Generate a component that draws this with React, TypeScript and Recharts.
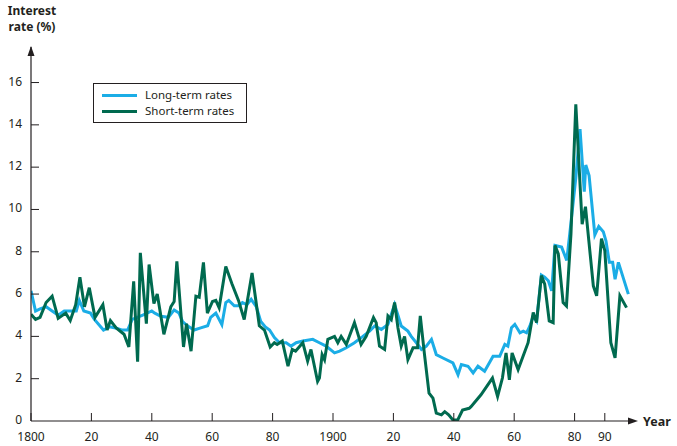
import React from 'react';
import { LineChart, Line, XAxis, YAxis, Legend, Customized } from 'recharts';

// ---- data ----
const LONG_YEARS = [1800, 1801.5, 1803, 1805, 1807, 1809, 1811, 1815, 1816, 1817.5, 1819.7, 1821, 1824, 1826, 1828, 1830, 1832, 1833.5, 1837, 1840, 1841, 1843, 1845.5, 1847.4, 1849, 1850.2, 1851.8, 1854, 1856.2, 1858.5, 1859.5, 1861.2, 1863.2, 1864.5, 1865.5, 1867.3, 1869, 1870, 1871.5, 1872.9, 1874.6, 1876.1, 1877.6, 1879, 1880.6, 1882.3, 1884.5, 1886.1, 1887.8, 1890, 1893.3, 1895.5, 1897.7, 1900.5, 1902.2, 1904.4, 1907.1, 1909.9, 1912.1, 1913.8, 1916, 1918.2, 1920.4, 1922.6, 1924.8, 1925.9, 1927.6, 1929.3, 1930.9, 1932.6, 1934.2, 1936.4, 1939.7, 1941.4, 1942.5, 1944.7, 1946.4, 1948, 1950.2, 1953, 1955.2, 1956.9, 1957.9, 1959.1, 1960.2, 1961.9, 1963, 1964.1, 1965.2, 1966.3, 1967.4, 1968.2, 1969, 1970.1, 1971.3, 1972.4, 1973.5, 1975.7, 1977.4, 1978.4, 1979.5, 1980.4, 1981.8, 1983.2, 1983.7, 1984.8, 1986.7, 1988, 1989.5, 1990.4, 1991.5, 1992.6, 1993.4, 1994.5, 1997.8];
const LONG_RATES = [6.15, 5.2, 5.3, 5.4, 5.2, 5.0, 5.2, 5.2, 5.7, 5.2, 5.1, 4.8, 4.3, 4.45, 4.4, 4.3, 4.3, 4.8, 5.0, 5.2, 5.1, 4.95, 4.9, 5.25, 5.1, 4.7, 4.5, 4.3, 4.4, 4.5, 4.9, 5.1, 4.55, 5.6, 5.7, 5.45, 5.45, 5.6, 5.5, 5.75, 5.4, 4.7, 4.45, 4.3, 3.94, 3.7, 3.7, 3.54, 3.7, 3.78, 3.86, 3.7, 3.54, 3.22, 3.3, 3.46, 3.7, 4.0, 4.25, 4.49, 4.33, 4.57, 5.5, 4.49, 4.25, 4.0, 3.7, 3.38, 3.54, 3.86, 3.14, 2.98, 2.75, 2.19, 2.67, 2.59, 2.27, 2.59, 2.35, 3.06, 3.06, 3.62, 3.54, 4.41, 4.57, 4.17, 4.25, 4.17, 4.49, 4.97, 4.73, 5.8, 6.9, 6.8, 6.63, 6.15, 8.3, 8.22, 7.59, 8.86, 10.3, 11.5, 13.8, 10.84, 12.1, 11.6, 8.8, 9.2, 8.95, 8.5, 7.5, 7.5, 6.7, 7.5, 6.0];

const SHORT_YEARS = [1800, 1801.5, 1803, 1805, 1807, 1809, 1811.5, 1813, 1814.8, 1816.2, 1817.7, 1819.3, 1821.2, 1823.8, 1825.2, 1826.3, 1828.2, 1830.8, 1832.4, 1834, 1835.3, 1836.2, 1838.2, 1839.1, 1840.7, 1841.8, 1844, 1846.3, 1847.4, 1848.3, 1850.5, 1851.5, 1853, 1854.6, 1855.7, 1857.1, 1858.4, 1860.1, 1861.2, 1862.3, 1864.5, 1866.5, 1868.7, 1870.6, 1873.2, 1875.6, 1877.3, 1879.2, 1880.6, 1881.5, 1883.2, 1885.1, 1886.5, 1887.6, 1890, 1891.6, 1892.7, 1894.9, 1895.5, 1896.4, 1897.2, 1898.3, 1900.5, 1901.6, 1902.7, 1904.4, 1907.1, 1909.3, 1911, 1913.4, 1914.3, 1915.4, 1917.1, 1918.2, 1919.3, 1920.4, 1921.5, 1922.6, 1923.7, 1924.8, 1926.5, 1928, 1928.9, 1930.3, 1931.8, 1933.1, 1934.2, 1935.9, 1937, 1938.3, 1939.7, 1941.3, 1942.9, 1945.1, 1945.7, 1949, 1952.8, 1954.5, 1956.1, 1957.3, 1958.4, 1959.3, 1961.3, 1964.6, 1966.3, 1967.4, 1969, 1970.1, 1971.6, 1972.9, 1973.5, 1974.6, 1976.2, 1977.3, 1978.8, 1980.4, 1982.5, 1983.6, 1984.7, 1986.2, 1987.3, 1988.9, 1990, 1992, 1993.4, 1995, 1997.2];
const SHORT_RATES = [5.05, 4.8, 4.9, 5.6, 5.9, 4.85, 5.1, 4.75, 5.5, 6.8, 5.4, 6.3, 4.9, 5.5, 4.3, 4.75, 4.4, 4.1, 3.5, 6.6, 2.8, 7.95, 4.6, 7.4, 5.55, 6.0, 4.1, 5.4, 5.65, 7.55, 3.5, 4.6, 3.3, 5.9, 5.85, 7.5, 5.1, 5.65, 5.7, 5.35, 7.3, 6.5, 5.7, 4.8, 7.0, 4.5, 4.3, 3.5, 3.7, 3.62, 3.78, 2.59, 3.38, 3.3, 3.7, 2.83, 3.38, 1.87, 2.03, 3.14, 2.9, 3.86, 4.0, 3.7, 4.0, 3.62, 4.65, 3.62, 4.0, 4.89, 4.65, 3.54, 3.38, 4.97, 4.8, 5.6, 4.41, 3.54, 4.0, 2.9, 3.46, 3.46, 4.97, 3.14, 1.32, 1.08, 0.37, 0.29, 0.44, 0.29, 0.05, 0.05, 0.52, 0.6, 0.68, 1.24, 2.03, 1.16, 2.03, 3.22, 1.95, 3.22, 2.43, 3.7, 5.13, 4.65, 6.87, 6.47, 4.73, 4.65, 8.3, 7.9, 5.6, 5.44, 8.86, 14.97, 9.3, 10.13, 8.54, 6.39, 5.92, 8.62, 8.06, 3.7, 2.98, 5.92, 5.36];

const X_TICKS = [1800, 1820, 1840, 1860, 1880, 1900, 1920, 1940, 1960, 1980, 1990];
const X_TICK_LABELS = ['1800', '20', '40', '60', '80', '1900', '20', '40', '60', '80', '90'];
const Y_TICKS = [0, 2, 4, 6, 8, 10, 12, 14, 16];

const SERIES_NAMES = ['Long-term rates', 'Short-term rates'];
const LONG_COLOR = '#1BADE6';
const SHORT_COLOR = '#006A4F';
const AXIS_COLOR = '#231F20';
const FONT = '"Noto Sans", "Open Sans", sans-serif';

const longData = LONG_YEARS.map((year, i) => ({ year, rate: LONG_RATES[i] }));
const shortData = SHORT_YEARS.map((year, i) => ({ year, rate: SHORT_RATES[i] }));

// ---- layout ----
const W = 677;
const H = 446;
const AXIS_Y = 421;
const AXIS_X = 31;

const XTick = (props: any) => {
  const { x, payload } = props;
  const idx = X_TICKS.indexOf(payload.value);
  return (
    <g>
      <line x1={x} x2={x} y1={AXIS_Y} y2={AXIS_Y - 8} stroke={AXIS_COLOR} strokeWidth={1} />
      <text x={x} y={AXIS_Y + 20} textAnchor="middle" fontSize={12} fontFamily={FONT} fill={AXIS_COLOR}>
        {X_TICK_LABELS[idx]}
      </text>
    </g>
  );
};

const YTick = (props: any) => {
  const { y, payload } = props;
  return (
    <g>
      {payload.value !== 0 && (
        <line x1={AXIS_X} x2={AXIS_X + 8} y1={y} y2={y} stroke={AXIS_COLOR} strokeWidth={1} />
      )}
      <text x={AXIS_X - 9} y={y + 3} textAnchor="end" fontSize={12} fontFamily={FONT} fill={AXIS_COLOR}>
        {payload.value}
      </text>
    </g>
  );
};

const LegendBox = () => (
  <div
    style={{
      position: 'absolute',
      left: 93,
      top: 83,
      border: `1px solid ${AXIS_COLOR}`,
      width: 154,
      height: 40,
      boxSizing: 'border-box',
      padding: '3px 0 0 8px',
      fontFamily: FONT,
      fontSize: 11.5,
      lineHeight: '16px',
      color: AXIS_COLOR,
      background: '#fff',
      textAlign: 'left',
    }}
  >
    {[LONG_COLOR, SHORT_COLOR].map((c, i) => (
      <div key={i} style={{ display: 'flex', alignItems: 'center', height: 16 }}>
        <span style={{ display: 'inline-block', width: 35, height: 3, background: c, marginRight: 8 }} />
        <span>{SERIES_NAMES[i]}</span>
      </div>
    ))}
  </div>
);

const Decorations = () => (
  <g>
    <polygon points={`${AXIS_X},46 ${AXIS_X - 3.5},56 ${AXIS_X + 3.5},56`} fill={AXIS_COLOR} />
    <polygon points={`638,${AXIS_Y} 628,${AXIS_Y - 3.5} 628,${AXIS_Y + 3.5}`} fill={AXIS_COLOR} />
    <text x={32} y={15} textAnchor="middle" fontSize={12} fontWeight="bold" fontFamily={FONT} fill={AXIS_COLOR}>
      Interest
    </text>
    <text x={32} y={31} textAnchor="middle" fontSize={12} fontWeight="bold" fontFamily={FONT} fill={AXIS_COLOR}>
      rate (%)
    </text>
    <text x={643} y={AXIS_Y + 5} textAnchor="start" fontSize={12.5} fontWeight="bold" fontFamily={FONT} fill={AXIS_COLOR}>
      Year
    </text>
  </g>
);

export default function App() {
  return (
    <div style={{ position: 'absolute', left: 0, top: 0, width: W, height: H, background: '#fff' }}>
      <LineChart width={W} height={H} margin={{ top: 47, right: 42, bottom: 0, left: 0 }}>
        <XAxis
          type="number"
          dataKey="year"
          domain={[1800, 2000]}
          ticks={X_TICKS}
          allowDataOverflow
          height={25}
          tickSize={0}
          tickLine={false}
          axisLine={{ stroke: AXIS_COLOR, strokeWidth: 1.2 }}
          tick={<XTick />}
          interval={0}
        />
        <YAxis
          type="number"
          domain={[0, 17.68]}
          ticks={Y_TICKS}
          width={AXIS_X}
          tickSize={0}
          tickLine={false}
          axisLine={{ stroke: AXIS_COLOR, strokeWidth: 1.2 }}
          tick={<YTick />}
          interval={0}
          allowDataOverflow
        />
        <Legend
          layout="horizontal"
          verticalAlign="middle"
          align="center"
          content={<LegendBox />}
          wrapperStyle={{ position: 'absolute', left: 0, top: 0, width: 0, height: 0 }}
        />
        <Line
          data={longData}
          dataKey="rate"
          name={SERIES_NAMES[0]}
          type="linear"
          stroke={LONG_COLOR}
          strokeWidth={3}
          dot={false}
          isAnimationActive={false}
        />
        <Line
          data={shortData}
          dataKey="rate"
          name={SERIES_NAMES[1]}
          type="linear"
          stroke={SHORT_COLOR}
          strokeWidth={3}
          dot={false}
          isAnimationActive={false}
        />
        <Customized component={Decorations} />
      </LineChart>
    </div>
  );
}
